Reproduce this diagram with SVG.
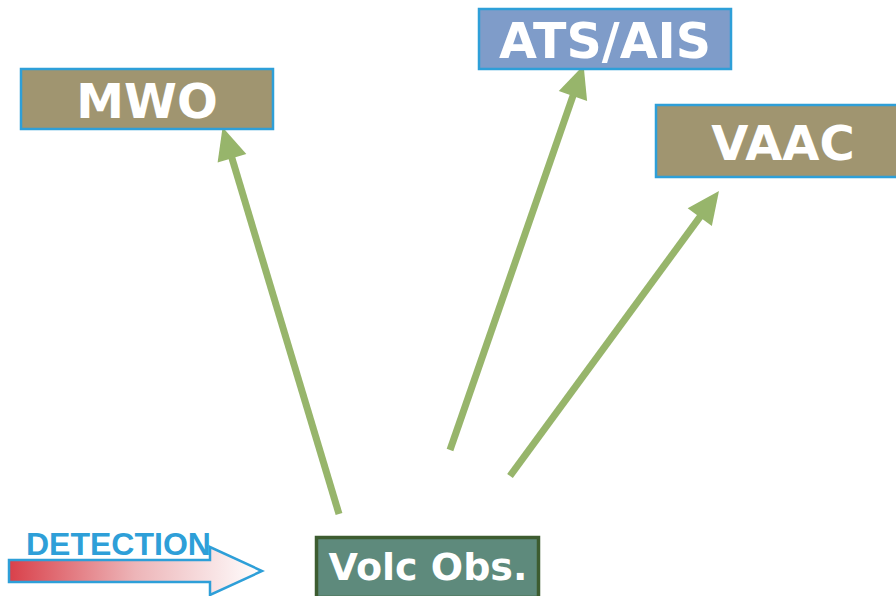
<svg xmlns="http://www.w3.org/2000/svg" width="896" height="596" viewBox="0 0 896 596">
<style>
.lbl{font-family:"DejaVu Sans",Verdana,sans-serif;font-weight:bold;fill:#ffffff;text-anchor:middle}
.tan{fill:#A09570;stroke:#2E9FD8;stroke-width:2.5}
.conn{stroke:#97B56B;stroke-width:7;fill:none;marker-end:url(#ah)}
</style>
<defs>
<marker id="ah" markerUnits="userSpaceOnUse" markerWidth="40" markerHeight="40" viewBox="-2 -14 32 28" refX="6" refY="0" orient="auto">
<path d="M0,-12 L26,0 L0,12 z" fill="#97B56B"/>
</marker>
<linearGradient id="grad" x1="0" y1="0" x2="1" y2="0">
<stop offset="0" stop-color="#D9404A"/>
<stop offset="0.5" stop-color="#EDB5B8"/>
<stop offset="1" stop-color="#FFFFFF"/>
</linearGradient>
</defs>
<rect width="896" height="596" fill="#ffffff"/>
<g id="connectors">
<line class="conn" x1="339" y1="514" x2="229.8" y2="151.1"/>
<line class="conn" x1="450" y1="450" x2="575.4" y2="88.9"/>
<line class="conn" x1="510" y1="476" x2="704.2" y2="211.1"/>
</g>
<g id="detection">
<path d="M9,560 L210,560 L210,547 L262,571 L210,595 L210,582 L9,582 z" fill="url(#grad)" stroke="#2E9FD8" stroke-width="2.5"/>
<text x="26" y="555" font-family="'Liberation Sans',Arial,sans-serif" font-weight="bold" font-size="32" fill="#2E9FD8">DETECTION</text>
</g>
<g id="mwo">
<rect class="tan" x="21" y="69" width="252" height="60"/>
<text class="lbl" x="147" y="118" font-size="48">MWO</text>
</g>
<g id="ats">
<rect x="479" y="9" width="252" height="60" fill="#7F9CC9" stroke="#2E9FD8" stroke-width="2.5"/>
<text class="lbl" x="605" y="58" font-size="49">ATS/AIS</text>
</g>
<g id="vaac">
<rect class="tan" x="656" y="105" width="250" height="72"/>
<text class="lbl" x="783" y="160" font-size="48">VAAC</text>
</g>
<g id="volc">
<rect x="316.5" y="537.5" width="222" height="60" fill="#5E8A7C" stroke="#3D5C30" stroke-width="3.5"/>
<text class="lbl" x="428" y="580" font-size="38">Volc Obs.</text>
</g>
</svg>
